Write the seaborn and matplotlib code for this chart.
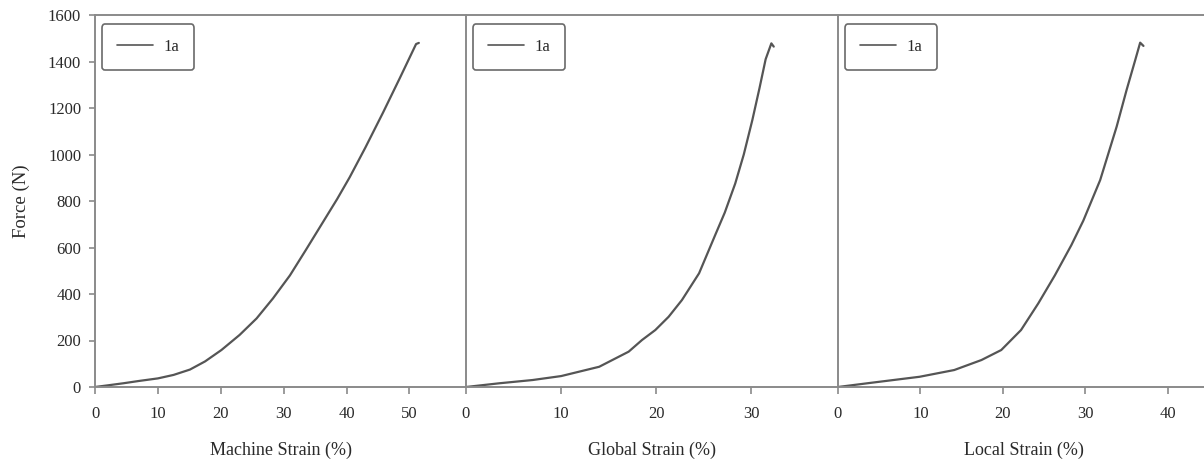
import numpy as np
import pandas as pd
import matplotlib
matplotlib.use("Agg")
import matplotlib.pyplot as plt
import seaborn as sns

# Force vs. strain for specimen 1a, three strain measures
machine_strain = [0, 2, 4.5, 7, 10, 12.5, 15.1, 17.5, 20.1, 23, 25.7, 28.3, 31,
                  33.5, 36, 38.5, 40.5, 43, 45.8, 48.5, 51.06, 51.5]
machine_force = [0, 7, 16, 26, 37, 52, 75, 110, 159, 224, 295, 381, 480,
                 588, 698, 808, 902, 1030, 1180, 1330, 1475, 1480]

global_strain = [0, 3.5, 7.0, 10.0, 14.0, 17.1, 18.5, 19.9, 21.3, 22.7, 24.5,
                 26.2, 27.2, 28.3, 29.2, 30.1, 30.85, 31.5, 32.1, 32.35]
global_force = [0, 16, 30, 47, 87, 152, 202, 245, 302, 374, 489,
                654, 750, 875, 1000, 1148, 1285, 1410, 1478, 1464]

local_strain = [0, 4.0, 9.9, 14.1, 17.4, 19.8, 22.2, 24.3, 26.3, 28.3, 29.75,
                31.8, 33.8, 35.0, 36.05, 36.65, 37.05]
local_force = [0, 18, 44, 73, 116, 159, 245, 360, 480, 610, 715,
               890, 1120, 1277, 1406, 1481, 1467]

x_labels = ["Machine Strain (%)", "Global Strain (%)", "Local Strain (%)"]
x_limits = [59, 39, 45]
x_ticks = [[0, 10, 20, 30, 40, 50], [0, 10, 20, 30], [0, 10, 20, 30, 40]]
y_ticks = [0, 200, 400, 600, 800, 1000, 1200, 1400, 1600]
series_name = "1a"

sns.set_theme(style="white")
plt.rcParams["font.family"] = ["Liberation Serif", "DejaVu Serif"]

W, H = 1204, 461
fig = plt.figure(figsize=(W / 100, H / 100), dpi=100)

spine_col = "#8a8a8a"
text_col = "#2a2a2a"
line_col = "#555555"

panels = [
    (machine_strain, machine_force),
    (global_strain, global_force),
    (local_strain, local_force),
]
lefts = [95, 466, 838]
pw = 371
top, bottom = 15, 387

for i, ((xs, ys), left) in enumerate(zip(panels, lefts)):
    ax = fig.add_axes([left / W, 1 - bottom / H, pw / W, (bottom - top) / H])
    df = pd.DataFrame({"strain": xs, "force": ys, "specimen": series_name})
    sns.lineplot(data=df, x="strain", y="force", hue="specimen",
                 palette=[line_col], sort=False, estimator=None,
                 linewidth=1.6, ax=ax)
    ax.set_xlim(0, x_limits[i])
    ax.set_ylim(0, 1600)
    ax.set_xticks(x_ticks[i])
    ax.set_yticks(y_ticks)
    for s in ["left", "top", "bottom", "right"]:
        ax.spines[s].set_color(spine_col)
        ax.spines[s].set_linewidth(1.4)
    ax.spines["right"].set_visible(i == 2)
    ax.tick_params(axis="x", bottom=True, direction="out", length=5,
                   width=1.2, color=spine_col, pad=9, labelsize=12,
                   labelcolor=text_col)
    if i == 0:
        ax.tick_params(axis="y", left=True, direction="out", length=4,
                       width=1.2, color=spine_col, pad=6, labelsize=12,
                       labelcolor=text_col)
        ax.set_ylabel("Force (N)", fontsize=13.5, color=text_col, labelpad=13)
    else:
        ax.tick_params(axis="y", left=False, labelleft=False)
        ax.set_ylabel("")
    ax.set_xlabel(x_labels[i], fontsize=13, color=text_col, labelpad=14)

    leg = ax.legend(loc="upper left",
                    bbox_to_anchor=(6.7 / pw, 1 - 9.3 / (bottom - top)),
                    borderaxespad=0, frameon=True, fontsize=12,
                    handlelength=2.2, handletextpad=0.6, borderpad=0.9,
                    fancybox=True, framealpha=1)
    leg.get_frame().set_edgecolor("#6a6a6a")
    leg.get_frame().set_linewidth(1.2)
    for t in leg.get_texts():
        t.set_color(text_col)
    for h in leg.get_lines():
        h.set_linewidth(1.2)

fig.savefig("out.png", dpi=100)
